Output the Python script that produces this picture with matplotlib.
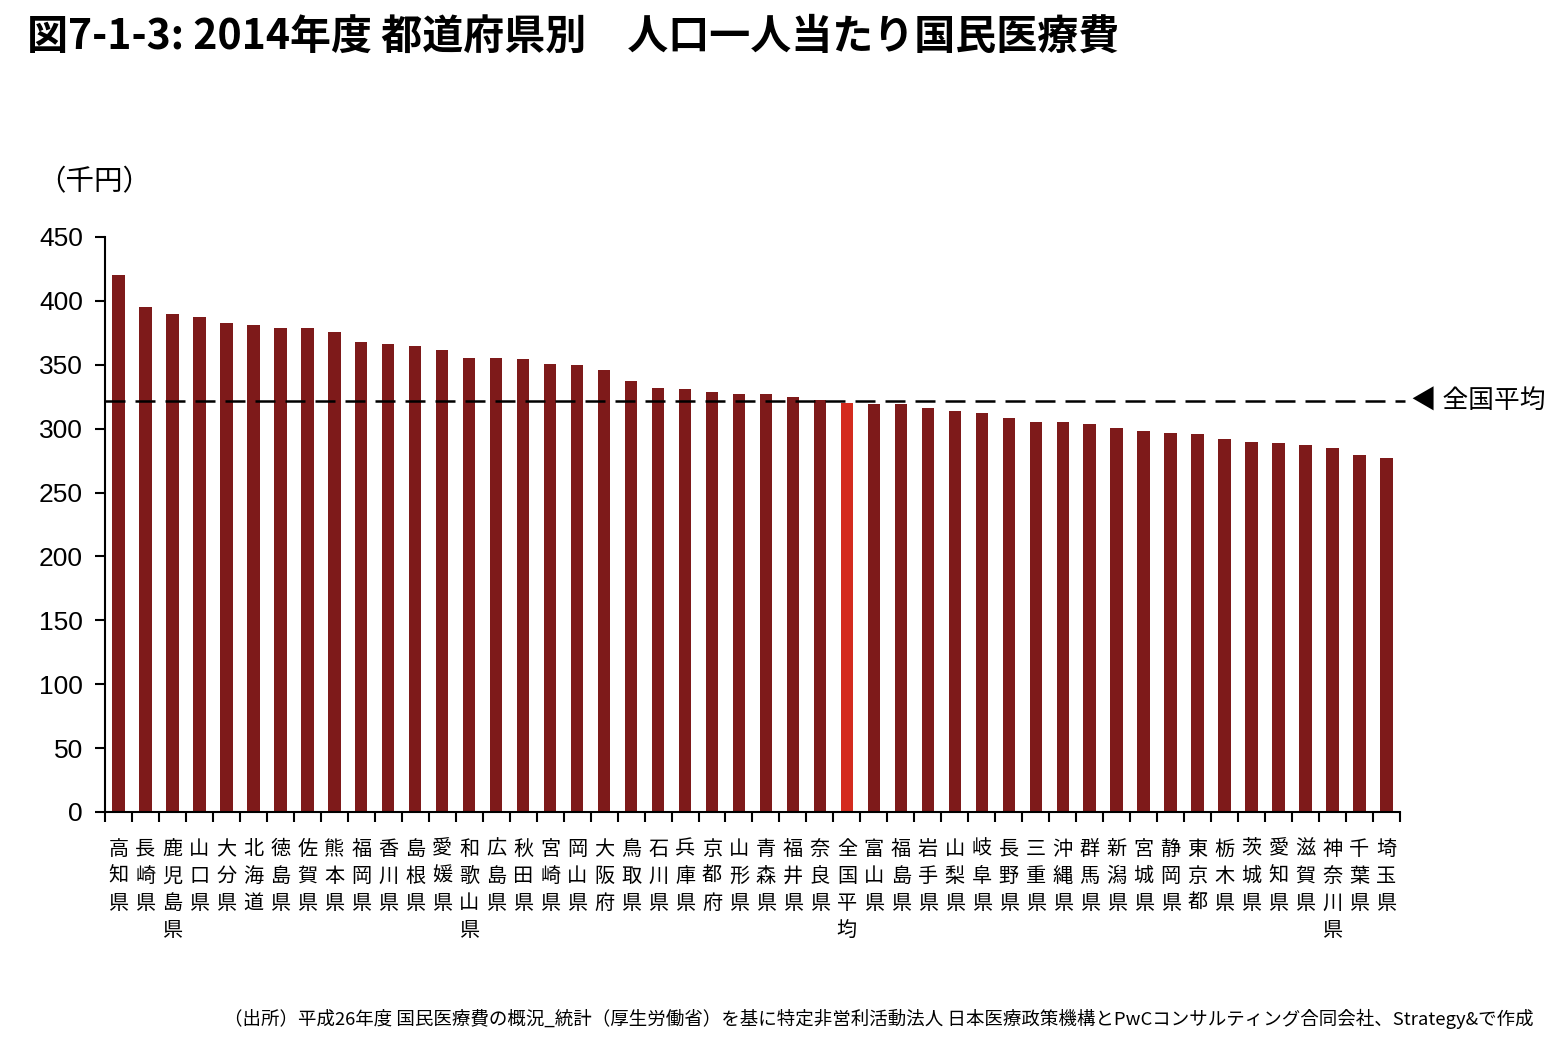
import numpy as np
import matplotlib
matplotlib.use('Agg')
import matplotlib.pyplot as plt

plt.rcParams['font.family'] = ['Noto Sans CJK JP', 'DejaVu Sans']

prefs = ['高知県', '長崎県', '鹿児島県', '山口県', '大分県', '北海道', '徳島県', '佐賀県',
         '熊本県', '福岡県', '香川県', '島根県', '愛媛県', '和歌山県', '広島県', '秋田県',
         '宮崎県', '岡山県', '大阪府', '鳥取県', '石川県', '兵庫県', '京都府', '山形県',
         '青森県', '福井県', '奈良県', '全国平均', '富山県', '福島県', '岩手県', '山梨県',
         '岐阜県', '長野県', '三重県', '沖縄県', '群馬県', '新潟県', '宮城県', '静岡県',
         '東京都', '栃木県', '茨城県', '愛知県', '滋賀県', '神奈川県', '千葉県', '埼玉県']
cost = [420.3, 395.0, 390.0, 387.5, 382.5, 381.0, 378.5, 378.5,
        375.5, 367.5, 366.0, 364.5, 361.5, 355.5, 355.5, 354.5,
        350.5, 349.5, 346.0, 337.5, 331.5, 331.0, 329.0, 327.0,
        327.0, 324.5, 322.5, 320.0, 319.0, 319.0, 316.5, 313.5,
        312.5, 308.0, 305.5, 305.5, 303.5, 300.5, 298.0, 296.5,
        295.5, 292.0, 289.5, 289.0, 287.0, 284.5, 279.5, 277.0]
national_avg = 321.5
yticks = [0, 50, 100, 150, 200, 250, 300, 350, 400, 450]

fig = plt.figure(figsize=(15.67, 10.43), dpi=100)
ax = fig.add_axes([0.067, 0.2215, 0.8264, 0.5513])

x = np.arange(len(prefs))
colors = ['#D42B1E' if p == '全国平均' else '#7E1A1A' for p in prefs]
ax.bar(x, cost, width=0.46, color=colors, edgecolor='none')

# dashed national average line
ax.axhline(national_avg, xmin=0, xmax=1.004, color='black', lw=1.8,
           dashes=(8, 4), clip_on=False, zorder=3)
ax.text(47.9, national_avg, '◀ 全国平均', fontsize=18.5, va='center', ha='left',
        family=['Noto Sans CJK JP', 'DejaVu Sans'])

ax.set_xlim(-0.5, len(prefs) - 0.5)
ax.set_ylim(0, 450)
ax.set_yticks(yticks)
ax.set_yticklabels([str(v) for v in yticks], fontsize=19, family='Liberation Sans')
ax.tick_params(axis='y', direction='out', length=7, width=1.5, pad=9)

ax.set_xticks([])
ax.set_xticks(np.arange(-0.5, len(prefs)), minor=True)
ax.tick_params(axis='x', which='minor', direction='out', length=7, width=1.5)
for i, p in enumerate(prefs):
    ax.text(i, -21, '\n'.join(p), ha='center', va='top', fontsize=14.5,
            linespacing=1.38, transform=ax.transData)

for s in ['top', 'right']:
    ax.spines[s].set_visible(False)
for s in ['left', 'bottom']:
    ax.spines[s].set_linewidth(1.5)

fig.text(0.024, 0.825, '（千円）', fontsize=20.5, va='center', ha='left')
fig.text(0.017, 0.965, '図7-1-3: 2014年度 都道府県別　人口一人当たり国民医療費',
         fontsize=29.5, fontweight='bold', va='center', ha='left')
fig.text(0.979, 0.023,
         '（出所）平成26年度 国民医療費の概況_統計（厚生労働省）を基に特定非営利活動法人 日本医療政策機構とPwCコンサルティング合同会社、Strategy&で作成',
         fontsize=13.3, va='center', ha='right')

plt.savefig('out.png', dpi=100)
